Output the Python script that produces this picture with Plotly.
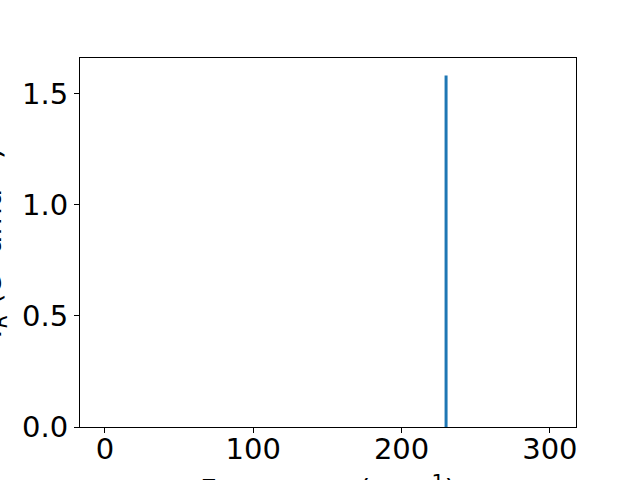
import plotly.graph_objects as go

# Data
frequencies = [230.0]
intensities = [1.582]
x_tick_vals = [0, 100, 200, 300]
y_tick_vals = [0.0, 0.5, 1.0, 1.5]
y_tick_text = ["0.0", "0.5", "1.0", "1.5"]
x_label = "Frequency (cm<sup>−1</sup>)"
y_label = "<i>I</i><sub><i>R</i></sub> (e<sup>2</sup> amu<sup>−1</sup>)"

xs, ys = [], []
for f, i in zip(frequencies, intensities):
    xs += [f, f, None]
    ys += [0, i, None]

FONT = "DejaVu Sans"
FS = 29

fig = go.Figure()
fig.add_trace(go.Scatter(x=xs, y=ys, mode="lines",
                         line=dict(color="#1f77b4", width=3),
                         showlegend=False, hoverinfo="skip"))

axis_common = dict(showline=True, mirror=True, linecolor="black", linewidth=1,
                   ticks="outside", ticklen=5, tickwidth=1, tickcolor="black",
                   showgrid=False, zeroline=False, automargin=False,
                   tickfont=dict(family=FONT, size=FS, color="black"))

fig.update_layout(
    width=640, height=480,
    margin=dict(l=80, r=64, t=58, b=53, pad=0),
    paper_bgcolor="white", plot_bgcolor="white",
    xaxis=dict(range=[-16.8, 317.6], tickvals=x_tick_vals, ticklabelstandoff=-9, **axis_common),
    yaxis=dict(range=[0, 1.661], tickvals=y_tick_vals, ticktext=y_tick_text, **axis_common),
    font=dict(family=FONT, size=FS, color="black"),
)

fig.add_annotation(text=x_label, xref="paper", yref="paper", x=0.5, y=-0.108,
                   xanchor="center", yanchor="top", showarrow=False,
                   font=dict(family=FONT, size=FS, color="black"))
fig.add_annotation(text=y_label, xref="paper", yref="paper", x=-0.135, y=0.5,
                   xanchor="right", yanchor="middle", textangle=-90, showarrow=False,
                   font=dict(family=FONT, size=FS, color="black"))

fig.write_html("out.html", config={"displayModeBar": False},
               post_script="document.body.style.margin='0';document.body.style.overflow='hidden';")
